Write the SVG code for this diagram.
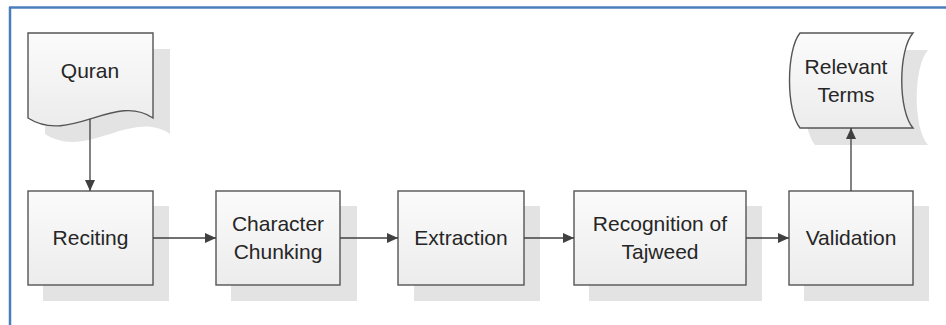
<svg xmlns="http://www.w3.org/2000/svg" width="946" height="325" viewBox="0 0 946 325">
<defs>
<linearGradient id="g" x1="0" y1="0" x2="0" y2="1">
<stop offset="0" stop-color="#fbfbfb"/>
<stop offset="1" stop-color="#ececec"/>
</linearGradient>
<marker id="ah" markerWidth="12" markerHeight="10" refX="11" refY="5" orient="auto" markerUnits="userSpaceOnUse">
<path d="M0,0 L11,5 L0,10 Z" fill="#404040"/>
</marker>
<style>
.sh{fill:#e3e3e3;stroke:none}
.bx{fill:url(#g);stroke:#555;stroke-width:1.4}
.t{font-family:"Liberation Sans",Arial,sans-serif;font-size:21px;fill:#262626;text-anchor:middle}
.c{stroke:#404040;stroke-width:1.3;fill:none;marker-end:url(#ah)}
</style>
</defs>
<rect width="946" height="325" fill="#fff"/>
<g id="frame" stroke="#4a7ebb" stroke-width="2.5" fill="none">
<line x1="9" y1="7.5" x2="946" y2="7.5"/>
<line x1="10" y1="7" x2="10" y2="325"/>
</g>
<g id="quran">
<path class="sh" transform="translate(17,16)" d="M28,33 H153 V118 C115,92 70,145 28,118 Z"/>
<path class="bx" d="M28,33 H153 V118 C115,92 70,145 28,118 Z"/>
<text class="t" x="90" y="78">Quran</text>
</g>
<g id="reciting">
<rect class="sh" x="43" y="206" width="126" height="95"/>
<rect class="bx" x="28" y="191" width="125" height="94"/>
<text class="t" x="90.5" y="245">Reciting</text>
</g>
<g id="chunking">
<rect class="sh" x="231" y="206" width="126" height="95"/>
<rect class="bx" x="216" y="191" width="124" height="94"/>
<text class="t" x="278" y="231">Character</text>
<text class="t" x="278" y="259">Chunking</text>
</g>
<g id="extraction">
<rect class="sh" x="414" y="206" width="126" height="95"/>
<rect class="bx" x="398" y="191" width="126" height="94"/>
<text class="t" x="461" y="245">Extraction</text>
</g>
<g id="recognition">
<rect class="sh" x="589" y="206" width="173" height="95"/>
<rect class="bx" x="574" y="191" width="172" height="94"/>
<text class="t" x="660" y="231">Recognition of</text>
<text class="t" x="660" y="259">Tajweed</text>
</g>
<g id="validation">
<rect class="sh" x="804" y="206" width="125" height="95"/>
<rect class="bx" x="789" y="191" width="124" height="94"/>
<text class="t" x="851" y="245">Validation</text>
</g>
<g id="terms">
<path class="sh" transform="translate(15,17)" d="M800,33 H913 C898,50 898,111 913,128 H800 C786,111 786,50 800,33 Z"/>
<path class="bx" d="M800,33 H913 C898,50 898,111 913,128 H800 C786,111 786,50 800,33 Z"/>
<text class="t" x="846" y="74">Relevant</text>
<text class="t" x="846" y="102">Terms</text>
</g>
<g id="connectors">
<line class="c" x1="90" y1="119" x2="90" y2="191"/>
<line class="c" x1="153" y1="238" x2="216" y2="238"/>
<line class="c" x1="340" y1="238" x2="398" y2="238"/>
<line class="c" x1="524" y1="238" x2="574" y2="238"/>
<line class="c" x1="746" y1="238" x2="789" y2="238"/>
<line class="c" x1="851" y1="191" x2="851" y2="128"/>
</g>
</svg>
